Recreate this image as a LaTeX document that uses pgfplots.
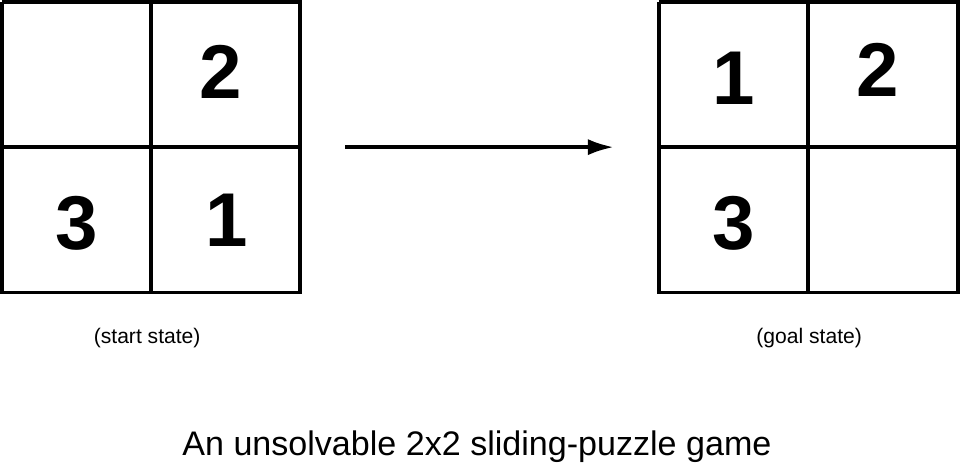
\documentclass[border=0pt]{standalone}
\usepackage{pgfplots}
\pgfplotsset{compat=1.18}
\usetikzlibrary{arrows.meta}
\usepackage{fontspec}
\setmainfont{Liberation Sans}
\begin{document}
\begin{tikzpicture}
\begin{axis}[width=10in,height=7.5in,scale only axis,axis lines=none,
  xmin=0,xmax=960,ymin=0,ymax=720,clip=false,ticks=none]
% left grid (y = 720 - pixel row)
\addplot[black,line width=2.2pt] coordinates {(91,501) (335,501) (335,263) (91,263) (91,501)};
\addplot[black,line width=2.2pt] coordinates {(213,501) (213,263)};
\addplot[black,line width=2.2pt] coordinates {(91,382) (335,382)};
% right grid
\addplot[black,line width=2.2pt] coordinates {(629,501) (874,501) (874,263) (629,263) (629,501)};
\addplot[black,line width=2.2pt] coordinates {(751,501) (751,263)};
\addplot[black,line width=2.2pt] coordinates {(629,382) (874,382)};
% arrow
\addplot[black,line width=2.2pt,-{Latex[length=16pt,width=10pt]}] coordinates {(372,382) (592,382)};
\node[font=\fontsize{47}{50}\selectfont\bfseries] at (axis cs:270,444) {2};
\node[font=\fontsize{47}{50}\selectfont\bfseries] at (axis cs:152,320) {3};
\node[font=\fontsize{47}{50}\selectfont\bfseries] at (axis cs:275,322) {1};
\node[font=\fontsize{47}{50}\selectfont\bfseries] at (axis cs:690,438) {1};
\node[font=\fontsize{47}{50}\selectfont\bfseries] at (axis cs:808,445) {2};
\node[font=\fontsize{47}{50}\selectfont\bfseries] at (axis cs:690,320) {3};
\node[font=\fontsize{13}{15}\selectfont] at (axis cs:210,226) {(start state)};
\node[font=\fontsize{13}{15}\selectfont] at (axis cs:752,226) {(goal state)};
\node[font=\fontsize{21}{24}\selectfont] at (axis cs:480,137) {An unsolvable 2x2 sliding-puzzle game};
\end{axis}
\end{tikzpicture}
\end{document}
